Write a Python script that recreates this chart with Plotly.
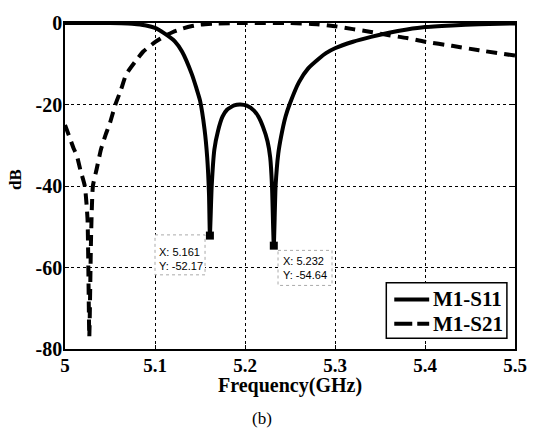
import plotly.graph_objects as go

# S11 (solid)
s11_f = [5.0, 5.05, 5.07, 5.08, 5.09, 5.10, 5.11, 5.122, 5.13, 5.141, 5.146, 5.15, 5.155, 5.158,
         5.160, 5.161, 5.163, 5.166, 5.17, 5.175, 5.18, 5.188, 5.195, 5.202, 5.21, 5.215, 5.22,
         5.225, 5.228, 5.230, 5.232, 5.234, 5.237, 5.24, 5.245, 5.25, 5.26, 5.27, 5.283, 5.29,
         5.30, 5.32, 5.34, 5.36, 5.38, 5.40, 5.43, 5.46, 5.5]
s11_db = [0, 0, -0.1, -0.3, -0.6, -1.2, -2.5, -4.5, -7, -12.6, -16, -19, -26, -33,
          -42, -52.17, -40, -31, -26.5, -23, -21.3, -20.2, -20, -20.3, -21.5, -23, -25.5,
          -29, -33, -40, -54.64, -40, -32, -28, -23, -19.7, -14.5, -11.2, -8.6, -7.4,
          -6.2, -4.6, -3.4, -2.4, -1.6, -1.0, -0.6, -0.3, -0.1]

# S21 (dashed)
s21_f = [5.0, 5.005, 5.01, 5.013, 5.017, 5.022, 5.025, 5.027, 5.029, 5.031, 5.035, 5.04, 5.045,
         5.05, 5.056, 5.062, 5.068, 5.078, 5.087, 5.10, 5.11, 5.12, 5.13, 5.14, 5.15, 5.17,
         5.2, 5.25, 5.28, 5.3, 5.32, 5.34, 5.36, 5.38, 5.40, 5.43, 5.46, 5.5]
s21_db = [-25, -28, -31, -32.4, -36, -40, -48, -77, -52, -40, -36, -31, -27.5,
          -24.5, -20, -16.5, -12.6, -9.5, -7, -4.7, -3.3, -2.2, -1.4, -0.8, -0.4, -0.1,
          0, 0, -0.3, -0.8, -1.5, -2.2, -3.0, -3.7, -4.6, -5.6, -6.7, -8]

# data tips
tip_x = [5.161, 5.232]
tip_y = [-52.17, -54.64]

series_names = ["M1-S11", "M1-S21"]
series_dash = ["solid", "11px,7px"]

x_ticks = [5, 5.1, 5.2, 5.3, 5.4, 5.5]
x_labels = ["5", "5.1", "5.2", "5.3", "5.4", "5.5"]
y_ticks = [0, -20, -40, -60, -80]
y_labels = ["0", "-20", "-40", "-60", "-80"]

SERIF = "Liberation Serif"

fig = go.Figure()
fig.add_trace(go.Scatter(x=s11_f, y=s11_db, mode="lines", name=series_names[0], showlegend=False,
                         line=dict(color="black", width=4, dash=series_dash[0], shape="spline", smoothing=0.5)))
fig.add_trace(go.Scatter(x=s21_f, y=s21_db, mode="lines", name=series_names[1], showlegend=False,
                         line=dict(color="black", width=4, dash=series_dash[1], shape="spline", smoothing=0.5)))
fig.add_trace(go.Scatter(x=tip_x, y=tip_y, mode="markers", showlegend=False,
                         marker=dict(symbol="square", size=8, color="black")))

# data tip boxes
boxes = [(5.1, 5.1556, -52.0, -61.8), (5.2367, 5.2967, -55.8, -64.4)]
for (x0, x1, y0, y1) in boxes:
    fig.add_shape(type="rect", x0=x0, x1=x1, y0=y0, y1=y1, xref="x", yref="y",
                  line=dict(color="#aaaaaa", width=1, dash="dot"), fillcolor="white", layer="above")
text_pos = [(5.1022, -56.2, -59.6), (5.2395, -58.4, -61.8)]
for i, (tx, ya, yb) in enumerate(text_pos):
    fig.add_annotation(x=tx, y=ya, xref="x", yref="y", text=f"X: {tip_x[i]}", showarrow=False,
                       xanchor="left", yanchor="middle", font=dict(family="Liberation Sans", size=11, color="black"))
    fig.add_annotation(x=tx, y=yb, xref="x", yref="y", text=f"Y: {tip_y[i]}", showarrow=False,
                       xanchor="left", yanchor="middle", font=dict(family="Liberation Sans", size=11, color="black"))

# legend (drawn in paper coordinates)
fig.add_shape(type="rect", xref="paper", yref="paper", x0=0.714, x1=0.982, y0=0.0328, y1=0.203,
              line=dict(color="black", width=1.5), fillcolor="white", layer="above")
leg_rows = [0.152, 0.0776]
leg_dash = ["solid", "18px,5px"]
for i, yy in enumerate(leg_rows):
    fig.add_shape(type="line", xref="paper", yref="paper", x0=0.7317, x1=0.8093, y0=yy, y1=yy,
                  line=dict(color="black", width=4, dash=leg_dash[i]), layer="above")
    fig.add_annotation(x=0.8137, y=yy, xref="paper", yref="paper", xanchor="left", yanchor="middle",
                       text=f"<b>{series_names[i]}</b>", showarrow=False,
                       font=dict(family=SERIF, size=21, color="black"))

fig.add_annotation(x=0.5, y=0, xref="paper", yref="paper", xanchor="center", yanchor="middle", yshift=-36,
                   text="<b>Frequency(GHz)</b>", showarrow=False,
                   font=dict(family=SERIF, size=20, color="black"))
fig.add_annotation(x=0.0, y=0.5, xref="paper", yref="paper", xanchor="center", yanchor="middle", xshift=-50,
                   yshift=6, text="<b>dB</b>", textangle=-90, showarrow=False,
                   font=dict(family=SERIF, size=17, color="black"))
fig.add_annotation(x=0.5, y=0, xref="paper", yref="paper", xanchor="center", yanchor="middle", yshift=-69,
                   xshift=-28, text="(b)", showarrow=False,
                   font=dict(family=SERIF, size=17, color="black"))

axis_common = dict(showline=True, linecolor="black", linewidth=1.5, mirror="ticks",
                   showgrid=True, gridcolor="black", griddash="dot", gridwidth=1,
                   ticks="inside", ticklen=4, tickcolor="black", zeroline=False)

fig.update_layout(
    width=539, height=434,
    margin=dict(l=65, r=23, t=14, b=85),
    paper_bgcolor="white", plot_bgcolor="white",
    xaxis=dict(range=[5, 5.5], tickvals=x_ticks, ticktext=[f"<b>{t}</b>" for t in x_labels],
               ticklabelstandoff=-2, tickfont=dict(family=SERIF, size=19, color="black"), **axis_common),
    yaxis=dict(range=[-80, 0], tickvals=y_ticks, ticktext=[f"<b>{t}</b>" for t in y_labels],
               ticklabelstandoff=-3, tickfont=dict(family=SERIF, size=20, color="black"), **axis_common),
    showlegend=False,
)

fig.write_html("out.html")
